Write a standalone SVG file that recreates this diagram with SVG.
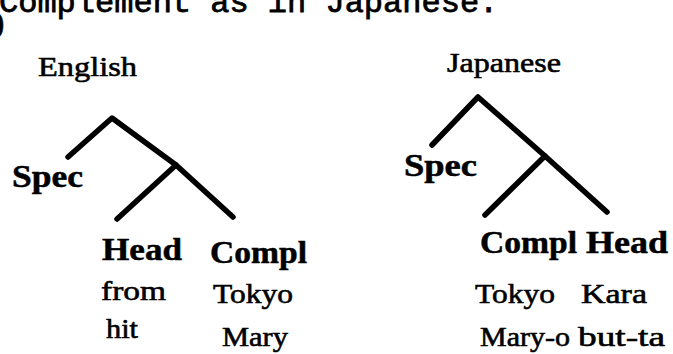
<svg xmlns="http://www.w3.org/2000/svg" width="673" height="354" viewBox="0 0 673 354">
<style>
.bg{fill:#fff}
.mono{font-family:"Liberation Mono","Courier New",monospace;font-size:32px;fill:#000;stroke:#000;stroke-width:0.8}
.t{font-family:"Liberation Serif","Times New Roman",serif;font-size:28px;fill:#000;stroke:#000;stroke-width:0.6}
.b{font-family:"Liberation Serif","Times New Roman",serif;font-size:31px;font-weight:bold;fill:#000;stroke:#000;stroke-width:0.5}
.edge{fill:none;stroke:#000;stroke-width:5.5;stroke-linecap:round;stroke-linejoin:round}
</style>
<rect class="bg" x="0" y="0" width="673" height="354"/>
<text class="mono" x="-1" y="12">Complement as in Japanese:</text>
<text class="b" x="-6" y="33" font-size="26">)</text>

<g id="connectors">
  <polyline class="edge" points="68,157 112,118 176,165 233,217"/>
  <line class="edge" x1="176" y1="165" x2="117" y2="219"/>
  <polyline class="edge" points="432,145 478,97 545,156 607,212"/>
  <line class="edge" x1="545" y1="156" x2="485" y2="215"/>
</g>

<g id="english-tree">
  <g id="en-title"><text class="t" x="38" y="76" textLength="99" lengthAdjust="spacingAndGlyphs">English</text></g>
  <g id="en-spec"><text class="b" x="12" y="187" textLength="71" lengthAdjust="spacingAndGlyphs">Spec</text></g>
  <g id="en-head">
    <text class="b" x="102" y="260" textLength="80" lengthAdjust="spacingAndGlyphs">Head</text>
    <text class="t" x="101" y="300" textLength="65" lengthAdjust="spacingAndGlyphs">from</text>
    <text class="t" x="106" y="338" textLength="32" lengthAdjust="spacingAndGlyphs">hit</text>
  </g>
  <g id="en-compl">
    <text class="b" x="210" y="263" textLength="97" lengthAdjust="spacingAndGlyphs">Compl</text>
    <text class="t" x="213" y="303" textLength="80" lengthAdjust="spacingAndGlyphs">Tokyo</text>
    <text class="t" x="222" y="346" textLength="66" lengthAdjust="spacingAndGlyphs">Mary</text>
  </g>
</g>

<g id="japanese-tree">
  <g id="ja-title"><text class="t" x="447" y="72" textLength="114" lengthAdjust="spacingAndGlyphs">Japanese</text></g>
  <g id="ja-spec"><text class="b" x="404" y="176" textLength="73" lengthAdjust="spacingAndGlyphs">Spec</text></g>
  <g id="ja-compl">
    <text class="b" x="480" y="253" textLength="97" lengthAdjust="spacingAndGlyphs">Compl</text>
    <text class="t" x="475" y="303" textLength="80" lengthAdjust="spacingAndGlyphs">Tokyo</text>
    <text class="t" x="480" y="346" textLength="90" lengthAdjust="spacingAndGlyphs">Mary-o</text>
  </g>
  <g id="ja-head">
    <text class="b" x="586" y="253" textLength="82" lengthAdjust="spacingAndGlyphs">Head</text>
    <text class="t" x="581" y="303" textLength="66" lengthAdjust="spacingAndGlyphs">Kara</text>
    <text class="t" x="578" y="346" textLength="87" lengthAdjust="spacingAndGlyphs">but-ta</text>
  </g>
</g>
</svg>
